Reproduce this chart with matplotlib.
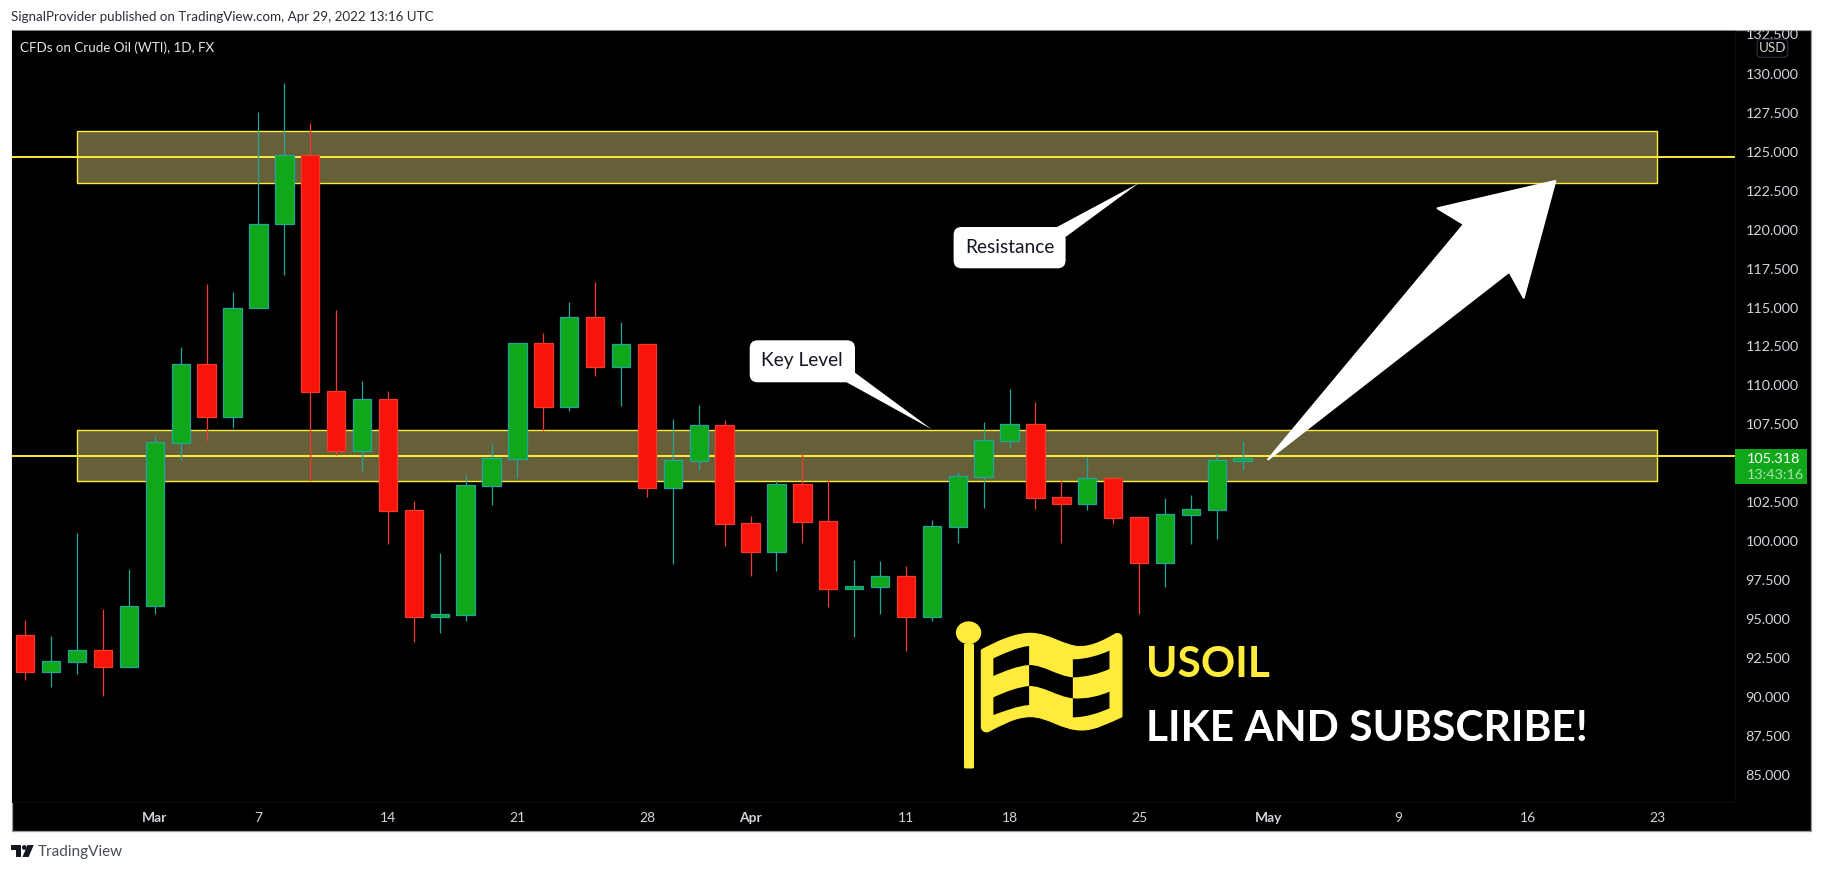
import matplotlib
matplotlib.use("Agg")
import matplotlib.pyplot as plt
from matplotlib.patches import Rectangle, Polygon, FancyBboxPatch, PathPatch, Circle, Ellipse
from matplotlib.path import Path
from matplotlib.transforms import Affine2D
from matplotlib.ticker import FixedLocator, FixedFormatter

W, H = 1822, 871
FONT = ["Lato", "DejaVu Sans"]
plt.rcParams["font.family"] = FONT

highs = [94.93, 93.90, 100.52, 95.64, 98.21, 106.75, 112.47, 116.51, 115.99, 127.56, 129.42, 126.85,
         114.84, 110.28, 109.64, 102.58, 99.24, 104.25, 106.24, 112.75, 113.37, 115.36, 116.64, 114.07,
         112.64, 107.84, 108.74, 107.78, 101.61, 103.91, 105.57, 103.97, 98.79, 98.72, 98.40, 101.36,
         104.42, 107.65, 109.77, 108.93, 103.92, 105.42, 104.18, 101.53, 102.77, 102.96, 105.64, 106.43]
lows = [91.10, 90.65, 91.48, 90.07, 91.93, 95.34, 105.23, 106.45, 107.28, 114.95, 117.09, 103.86,
        105.53, 104.50, 99.82, 93.54, 94.12, 94.89, 102.34, 104.05, 107.07, 108.35, 110.60, 108.68,
        102.85, 98.55, 104.58, 99.69, 97.78, 98.10, 99.90, 95.79, 93.86, 95.34, 92.94, 94.89,
        99.90, 102.14, 106.00, 102.06, 99.90, 102.02, 101.12, 95.34, 97.07, 99.83, 100.13, 104.58]
opens = [93.95, 91.57, 92.26, 92.98, 91.93, 95.81, 106.32, 111.35, 107.99, 114.95, 120.35, 124.78,
         109.62, 105.81, 109.11, 101.98, 95.15, 95.27, 103.56, 105.29, 112.70, 108.63, 114.38, 111.20,
         112.64, 103.43, 105.16, 107.44, 101.14, 99.32, 103.67, 101.27, 96.94, 97.07, 97.74, 95.15,
         100.93, 104.14, 106.45, 107.50, 102.81, 102.40, 104.03, 101.53, 98.61, 101.70, 102.02, 105.16]
closes = [91.57, 92.28, 92.98, 91.93, 95.81, 106.34, 111.35, 107.99, 114.95, 120.35, 124.78, 109.59,
          105.81, 109.11, 101.95, 95.15, 95.32, 103.58, 105.32, 112.70, 108.63, 114.38, 111.20, 112.64,
          103.43, 105.19, 107.44, 101.12, 99.32, 103.67, 101.25, 96.94, 97.12, 97.74, 95.15, 100.95,
          104.16, 106.47, 107.50, 102.79, 102.40, 104.03, 101.50, 98.61, 101.72, 102.04, 105.19, 105.34]

zone_tops = [126.32, 107.12]
zone_bottoms = [123.02, 103.84]
zone_lines = [124.69, 105.48]
zone_start, zone_end = 2, 63

price_ticks = [85 + 2.5 * k for k in range(19) if k != 8]
price_labels = [f"{v:.3f}" for v in price_ticks]
time_ticks = [5, 9, 14, 19, 24, 28, 34, 38, 43, 48, 53, 58, 63]
time_labels = ["Mar", "7", "14", "21", "28", "Apr", "11", "18", "25", "May", "9", "16", "23"]
bold_time_labels = {"Mar", "Apr", "May"}

BLACK = "#000000"
GREEN = "#11A71B"
GREEN_EDGE = "#1FA59A"
RED = "#F8140A"
RED_EDGE = "#F23A2E"
YELLOW = "#FFEB3B"
ZONE = "#666038"
AXIS_TEXT = "#D1D4DC"
FRAME = "#9A9DA6"

fig = plt.figure(figsize=(W / 100, H / 100), dpi=100, facecolor="white")
pix = Affine2D().scale(1, -1).translate(0, H)   # pixel coordinates, top-left origin

# chart frame
L, R_IN, R_OUT, T, B_IN, B_OUT = 11.5, 1735, 1811, 30, 802, 831
fig.add_artist(Rectangle((L, T), R_OUT - L, B_OUT - T, transform=pix, facecolor=BLACK,
                         edgecolor=FRAME, linewidth=0.9, zorder=-1))

ax = fig.add_axes([L / W, 1 - B_IN / H, (R_IN - L) / W, (B_IN - T) / H], facecolor=BLACK)
ax.set_xlim(-0.533, 66.01)
ax.set_ylim(134.753 - B_IN / 15.57, 134.753 - T / 15.57)
for s in ax.spines.values():
    s.set_visible(False)
for side in ("right", "bottom"):
    ax.spines[side].set_visible(True)
    ax.spines[side].set_color("#0C0C0C")

for top, bot, lv in zip(zone_tops, zone_bottoms, zone_lines):
    ax.add_patch(Rectangle((zone_start, bot), zone_end - zone_start, top - bot, facecolor=ZONE,
                           edgecolor=YELLOW, linewidth=1.0, zorder=1))
    ax.axhline(lv, color=YELLOW, linewidth=1.4, zorder=2)

xs = list(range(len(opens)))
ups = [c >= o for o, c in zip(opens, closes)]
ax.vlines(xs, lows, highs, colors=[GREEN_EDGE if u else RED_EDGE for u in ups], linewidth=0.9, zorder=3)
ax.bar(xs, [abs(c - o) for o, c in zip(opens, closes)], bottom=[min(o, c) for o, c in zip(opens, closes)],
       width=0.71, color=[GREEN if u else RED for u in ups],
       edgecolor=[GREEN_EDGE if u else RED_EDGE for u in ups], linewidth=0.9, zorder=4)

ax.yaxis.tick_right()
ax.yaxis.set_major_locator(FixedLocator(price_ticks))
ax.yaxis.set_major_formatter(FixedFormatter(price_labels))
ax.xaxis.set_major_locator(FixedLocator(time_ticks))
ax.xaxis.set_major_formatter(FixedFormatter(time_labels))
ax.tick_params(axis="y", length=0, pad=7.5, labelsize=10.4, labelcolor=AXIS_TEXT)
ax.tick_params(axis="x", length=0, pad=7, labelsize=10, labelcolor=AXIS_TEXT)
for lab in ax.get_xticklabels():
    if lab.get_text() in bold_time_labels:
        lab.set_fontweight("bold")


def ptext(x, y, s, ha="left", z=30, **kw):
    return fig.text(x, y, s, transform=pix, zorder=z, ha=ha, va="center", **kw)


# 132.500 top label, cut by the chart's top edge (white band + frame line sit over it)
ptext(1746, 35, "132.500", z=24, color=AXIS_TEXT, fontsize=10.4)
fig.add_artist(Rectangle((0, 0), W, T, transform=pix, facecolor="white", edgecolor="none", zorder=25))
fig.add_artist(Rectangle((L, T), R_OUT - L, 0.4, transform=pix, facecolor=FRAME, edgecolor=FRAME,
                         linewidth=0.6, zorder=25))

# USD tag
fig.add_artist(FancyBboxPatch((1759, 41), 27, 14.5, boxstyle="round,pad=1.8,rounding_size=4", transform=pix,
                              facecolor=BLACK, edgecolor="#2A2E39", linewidth=0.9, zorder=25))
ptext(1772.5, 47.5, "USD", color=AXIS_TEXT, fontsize=9.6, ha="center")

# last price label
fig.add_artist(Rectangle((1735, 449), 71.7, 34.7, transform=pix, facecolor=GREEN, edgecolor="none", zorder=25))
ptext(1747, 458.5, "105.318", color="white", fontsize=10.4)
ptext(1747, 475, "13:43:16", color="#A9E0AC", fontsize=10.4)

# header / footer / title
ptext(11, 17, "SignalProvider published on TradingView.com, Apr 29, 2022 13:16 UTC", color="#2A2E39", fontsize=9.6)
ptext(20, 47.3, "CFDs on Crude Oil (WTI), 1D, FX", color="#E6E6E6", fontsize=9.6)
ptext(38, 851.7, "TradingView", color="#4A4E59", fontsize=11)
fig.add_artist(Polygon([(11, 845), (21, 845), (21, 857), (16, 857), (16, 850), (11, 850)], transform=pix,
                       facecolor="#131722", edgecolor="none"))
fig.add_artist(Circle((24.3, 847.5), 2.4, transform=pix, facecolor="#131722", edgecolor="none"))
fig.add_artist(Polygon([(27.5, 845), (33.7, 845), (28.6, 857), (22.5, 857)], transform=pix,
                       facecolor="#131722", edgecolor="none"))


# callouts
def callout(x0, y0, x1, y1, tail, text, tx, ty, size):
    fig.add_artist(FancyBboxPatch((x0 + 8, y0 + 8), x1 - x0 - 16, y1 - y0 - 16,
                                  boxstyle="round,pad=8,rounding_size=8", transform=pix,
                                  facecolor="white", edgecolor="none", zorder=20))
    fig.add_artist(Polygon(tail, transform=pix, facecolor="white", edgecolor="none", zorder=20))
    ptext(tx, ty, text, ha="center", z=31, color="#131722", fontsize=size)


callout(749.7, 340.3, 855, 382.3, [(855, 372.7), (846.7, 382.3), (931.7, 429.3)], "Key Level", 802, 360, 13.8)
callout(953.6, 227, 1065.6, 268.3, [(1057, 227), (1066, 236.7), (1139, 183)], "Resistance", 1009.5, 247, 13.8)

# big arrow
fig.add_artist(Polygon([(1555.3, 181), (1437.6, 208.3), (1464, 224.3), (1268.2, 459.3),
                        (1509.3, 271.7), (1523.7, 297.7)], transform=pix, facecolor="white",
                       edgecolor="white", linewidth=1.5, joinstyle="round", zorder=20))


# flag logo (coordinates taken from the 2.24x / 3x crop of the artwork)
def fx(zx): return 930 + zx / 2.24
def fy(zy): return 600 + zy / 3
def P(a, b): return (fx(a), fy(b))


fig.add_artist(FancyBboxPatch((965.5, 645), 7, 122, boxstyle="round,pad=1.5,rounding_size=1.5", transform=pix,
                              facecolor=YELLOW, edgecolor="none", zorder=21))
fig.add_artist(Ellipse((968.6, 632.7), 25.4, 22.7, transform=pix, facecolor=YELLOW, edgecolor="none", zorder=21))

outer = [(115, 150), (150, 125), (190, 100), (225, 100), (265, 100), (300, 138), (335, 140),
         (365, 140), (395, 118), (415, 102), (425, 98), (430, 105), (430, 115),
         (430, 190), (430, 270), (430, 350), (400, 368), (370, 390), (340, 390),
         (295, 390), (265, 350), (225, 350), (190, 350), (160, 375), (130, 395),
         (122, 398), (115, 390), (115, 380), (115, 300), (115, 225), (115, 150)]
fig.add_artist(PathPatch(Path([P(*p) for p in outer], [Path.MOVETO] + [Path.CURVE4] * (len(outer) - 1)),
                         transform=pix, facecolor=YELLOW, edgecolor=YELLOW, linewidth=0.8, zorder=21))


def black_cell(pts):
    codes = [Path.MOVETO, Path.CURVE4, Path.CURVE4, Path.CURVE4, Path.LINETO,
             Path.CURVE4, Path.CURVE4, Path.CURVE4, Path.LINETO]
    fig.add_artist(PathPatch(Path([P(*p) for p in pts], codes), transform=pix, facecolor=BLACK,
                             edgecolor="none", zorder=22))


black_cell([(142, 175), (170, 158), (195, 142), (222, 138), (222, 195),
            (195, 198), (170, 212), (142, 228), (142, 175)])
black_cell([(142, 292), (170, 275), (195, 262), (222, 258), (222, 315),
            (195, 318), (170, 332), (142, 345), (142, 292)])
black_cell([(320, 178), (350, 178), (380, 165), (402, 152), (402, 207),
            (380, 220), (350, 232), (320, 232), (320, 178)])
black_cell([(320, 295), (350, 298), (380, 288), (402, 275), (402, 325),
            (380, 338), (350, 352), (320, 352), (320, 295)])
black_cell([(222, 195), (255, 195), (285, 228), (320, 232), (320, 295),
            (285, 290), (255, 258), (222, 258), (222, 195)])

ptext(1146, 664.5, "USOIL", color=YELLOW, fontsize=30.6, fontweight="bold")
ptext(1146, 728.5, "LIKE AND SUBSCRIBE!", color="white", fontsize=30.6, fontweight="bold")

fig.savefig("out.png", dpi=100, facecolor="white")
